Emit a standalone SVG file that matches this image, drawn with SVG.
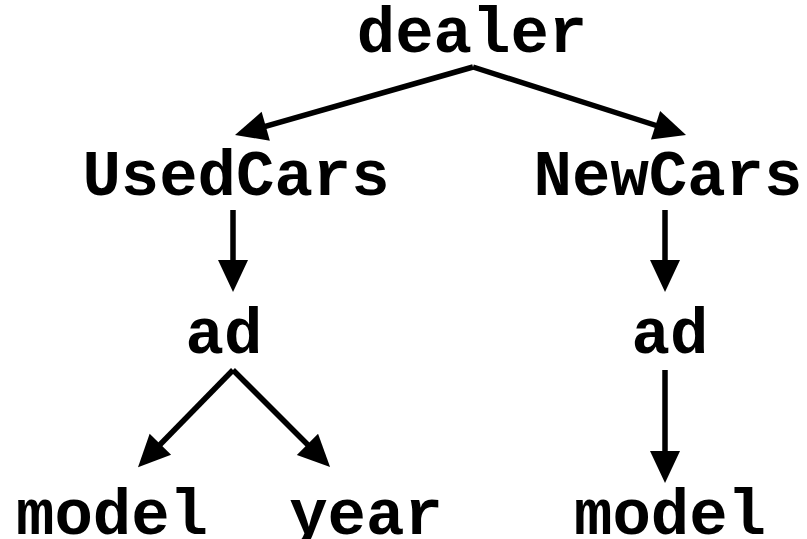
<svg xmlns="http://www.w3.org/2000/svg" width="807" height="539" viewBox="0 0 807 539">
<style>
text{font-family:"Liberation Mono","Courier New",monospace;font-weight:bold;font-size:64px;fill:#000;text-anchor:middle}
.c line{stroke:#000;stroke-width:5.5;marker-end:url(#ah)}
</style>
<defs>
<marker id="ah" markerUnits="userSpaceOnUse" markerWidth="32" markerHeight="30" refX="22" refY="15" orient="auto" overflow="visible">
<path d="M0,0 L32,15 L0,30 Z" fill="#000"/>
</marker>
</defs>
<rect width="807" height="539" fill="#fff"/>
<g class="c" id="connectors">
<line x1="473" y1="67" x2="244.6" y2="132.3"/>
<line x1="473" y1="67" x2="676.5" y2="132"/>
<line x1="233" y1="210" x2="233" y2="282"/>
<line x1="665" y1="210" x2="665" y2="282"/>
<line x1="233" y1="370" x2="145" y2="460"/>
<line x1="233" y1="370" x2="323" y2="460"/>
<line x1="665" y1="370" x2="665" y2="473"/>
</g>
<g id="dealer"><text x="472" y="52">dealer</text></g>
<g id="usedcars"><text x="236" y="195">UsedCars</text></g>
<g id="newcars"><text x="668" y="195">NewCars</text></g>
<g id="ad1"><text x="224" y="353">ad</text></g>
<g id="ad2"><text x="670" y="353">ad</text></g>
<g id="model1"><text x="112" y="534">model</text></g>
<g id="year"><text x="366" y="534">year</text></g>
<g id="model2"><text x="670" y="534">model</text></g>
</svg>
